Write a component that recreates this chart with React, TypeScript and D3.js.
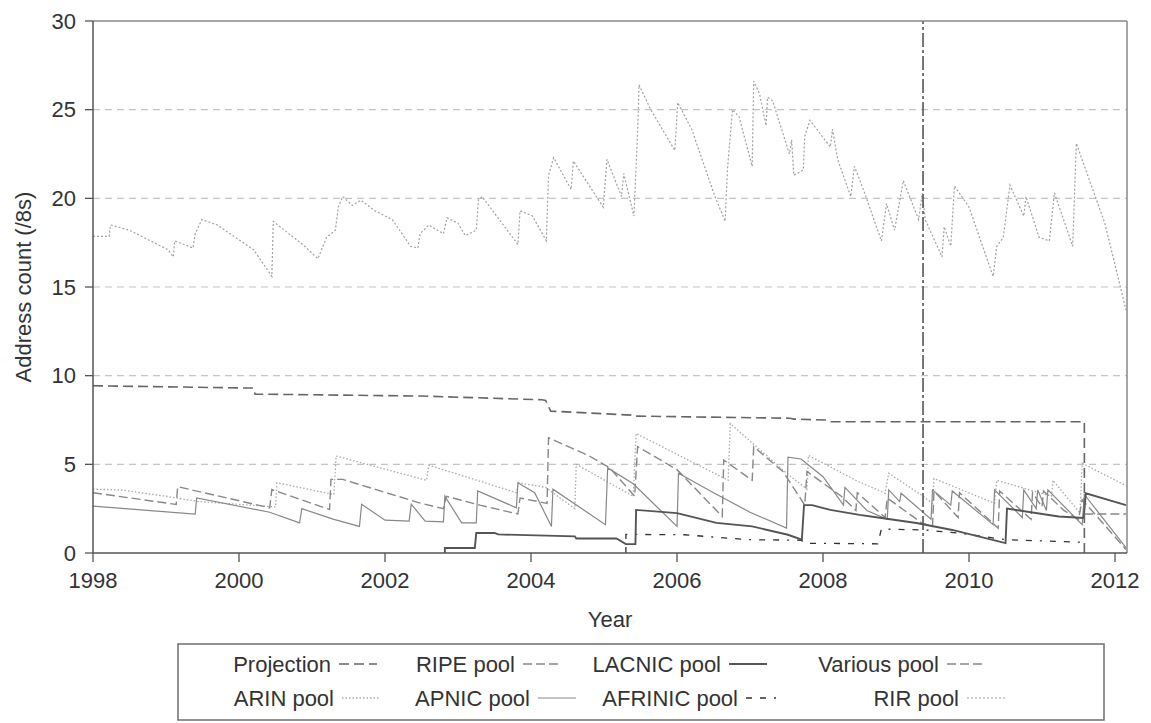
import React from 'react';
import * as d3 from 'd3';

type Pt = [number, number];

// year, /8 count
const rirPool: Pt[] = [
  [1998.0, 17.85], [1998.22, 17.85], [1998.24, 18.5], [1998.5, 18.2], [1999.03, 17.1], [1999.1, 16.7],
  [1999.12, 17.6], [1999.37, 17.2], [1999.4, 18.0], [1999.49, 18.8], [1999.7, 18.5], [2000.2, 17.1],
  [2000.45, 15.6], [2000.47, 18.7], [2000.9, 17.3], [2001.08, 16.6], [2001.2, 17.8], [2001.32, 18.2],
  [2001.36, 19.5], [2001.42, 20.1], [2001.55, 19.6], [2001.67, 19.9], [2001.86, 19.3], [2002.1, 18.8],
  [2002.35, 17.3], [2002.45, 17.2], [2002.48, 18.0], [2002.6, 18.5], [2002.8, 18.0], [2002.85, 18.9],
  [2003.0, 18.6], [2003.1, 17.9], [2003.25, 18.2], [2003.28, 19.9], [2003.33, 20.1], [2003.82, 17.4],
  [2003.85, 19.3], [2004.02, 19.0], [2004.21, 17.6], [2004.24, 21.3], [2004.31, 22.3], [2004.55, 20.5],
  [2004.58, 22.1], [2004.99, 19.5], [2005.04, 22.2], [2005.24, 20.1], [2005.27, 21.4], [2005.41, 19.0],
  [2005.46, 23.7], [2005.48, 26.4], [2005.64, 25.0], [2005.97, 22.7], [2006.01, 25.4], [2006.2, 23.9],
  [2006.52, 20.1], [2006.66, 18.7], [2006.69, 21.6], [2006.76, 25.0], [2006.85, 24.6], [2007.03, 21.8],
  [2007.05, 26.6], [2007.13, 25.9], [2007.22, 24.1], [2007.24, 25.7], [2007.31, 25.5], [2007.54, 22.5],
  [2007.57, 23.3], [2007.6, 21.3], [2007.73, 21.6], [2007.75, 23.5], [2007.82, 24.4], [2008.1, 22.9],
  [2008.13, 23.9], [2008.2, 22.2], [2008.38, 20.1], [2008.43, 21.8], [2008.57, 20.3], [2008.8, 17.6],
  [2008.87, 19.7], [2008.98, 18.2], [2009.1, 21.0], [2009.31, 18.8], [2009.36, 20.3], [2009.4, 18.8],
  [2009.63, 16.7], [2009.66, 18.4], [2009.75, 17.3], [2009.8, 20.7], [2010.0, 19.5], [2010.33, 15.6],
  [2010.38, 17.3], [2010.47, 17.8], [2010.56, 20.75], [2010.75, 19.0], [2010.78, 20.1], [2010.96, 17.8],
  [2011.1, 17.6], [2011.17, 20.3], [2011.42, 17.3], [2011.47, 23.1], [2011.86, 18.6], [2012.15, 13.7],
];

const projection: Pt[] = [
  [1998.0, 9.43], [2000.2, 9.3], [2000.22, 8.96], [2002.5, 8.85], [2004.15, 8.64], [2004.2, 8.6],
  [2004.27, 8.0], [2005.39, 7.77], [2005.42, 7.72], [2007.55, 7.6], [2007.6, 7.55], [2008.05, 7.5],
  [2008.1, 7.4], [2011.58, 7.4], [2011.58, 0],
];

const markerYear = 2009.37;

const arinPool: Pt[] = [
  [1998.0, 3.6], [1998.4, 3.55], [1999.0, 3.2], [1999.45, 2.9], [2000.5, 2.6], [2000.52, 3.96],
  [2001.3, 3.3], [2001.33, 5.47], [2002.57, 4.1], [2002.6, 4.95], [2003.8, 3.4], [2003.83, 3.96],
  [2004.2, 3.7], [2004.6, 2.5], [2004.62, 5.0], [2005.4, 3.2], [2005.44, 6.74], [2006.7, 4.1],
  [2006.73, 7.3], [2007.5, 4.5], [2007.78, 3.6], [2007.8, 5.5], [2008.45, 4.1], [2008.85, 3.37],
  [2008.9, 4.5], [2009.37, 3.2], [2009.5, 2.8], [2009.52, 4.2], [2010.35, 2.8], [2010.38, 4.1],
  [2011.13, 3.2], [2011.15, 4.1], [2011.52, 2.25], [2011.55, 5.06], [2012.15, 3.8],
];

const ripePool: Pt[] = [
  [1998.0, 3.4], [1999.14, 2.74], [1999.16, 3.74], [2000.42, 2.55], [2000.45, 3.58], [2001.24, 2.45],
  [2001.26, 4.15], [2001.42, 4.15], [2002.47, 2.83], [2002.8, 2.5], [2002.84, 3.2], [2003.3, 2.7],
  [2003.82, 2.2], [2003.85, 3.1], [2004.22, 2.8], [2004.24, 6.5], [2004.8, 5.47], [2005.08, 4.8],
  [2005.42, 3.2], [2005.46, 6.0], [2006.0, 4.7], [2006.62, 2.06], [2006.64, 5.24], [2007.03, 4.1],
  [2007.05, 6.0], [2007.45, 4.6], [2007.75, 2.7], [2007.78, 4.6], [2008.25, 3.2], [2008.45, 2.4],
  [2008.47, 3.4], [2008.85, 2.0], [2008.88, 3.1], [2009.35, 1.7], [2009.5, 1.5], [2009.52, 3.5],
  [2009.85, 2.0], [2009.87, 3.4], [2010.4, 1.4], [2010.42, 3.5], [2010.85, 1.9], [2010.87, 3.4],
  [2011.0, 2.6], [2011.02, 3.5], [2011.3, 2.4], [2011.5, 1.9], [2011.55, 3.0], [2012.15, 0.2],
];

const apnicPool: Pt[] = [
  [1998.0, 2.64], [1999.4, 2.2], [1999.42, 3.1], [2000.42, 2.3], [2000.83, 1.7], [2000.86, 2.5],
  [2001.3, 1.9], [2001.65, 1.5], [2001.68, 2.75], [2002.0, 1.85], [2002.33, 1.8], [2002.36, 2.75],
  [2002.55, 1.8], [2002.8, 1.75], [2002.82, 3.2], [2003.05, 1.7], [2003.25, 1.7], [2003.27, 3.5],
  [2003.8, 2.55], [2003.82, 3.96], [2004.05, 3.4], [2004.28, 1.5], [2004.3, 3.6], [2005.02, 1.6],
  [2005.05, 4.8], [2005.4, 3.9], [2006.0, 1.5], [2006.02, 4.5], [2006.5, 3.4], [2007.0, 2.3],
  [2007.5, 1.4], [2007.52, 5.4], [2007.7, 5.3], [2008.0, 4.3], [2008.28, 2.7], [2008.3, 3.7],
  [2008.6, 2.4], [2008.88, 1.9], [2008.9, 3.56], [2009.05, 2.9], [2009.07, 3.37], [2009.48, 1.9],
  [2009.5, 3.56], [2009.75, 2.7], [2009.77, 3.5], [2010.33, 1.6], [2010.35, 3.56], [2010.73, 2.0],
  [2010.75, 3.56], [2010.92, 2.5], [2010.94, 3.56], [2011.06, 2.4], [2011.08, 3.56], [2011.55, 1.6],
  [2011.58, 3.3], [2012.15, 0.3],
];

const lacnicPool: Pt[] = [
  [2002.82, 0], [2002.82, 0.28], [2003.23, 0.28], [2003.25, 1.13], [2003.5, 1.13], [2003.55, 1.05],
  [2004.6, 0.94], [2004.62, 0.82], [2005.17, 0.82], [2005.3, 0.5], [2005.43, 0.5], [2005.44, 2.43],
  [2006.0, 2.25], [2006.54, 1.7], [2007.03, 1.5], [2007.52, 1.03], [2007.71, 0.75], [2007.74, 2.7],
  [2007.85, 2.7], [2008.1, 2.43], [2008.5, 2.15], [2008.8, 1.97], [2009.28, 1.69], [2009.77, 1.3],
  [2010.5, 0.56], [2010.52, 2.5], [2011.23, 2.06], [2011.57, 1.97], [2011.6, 3.37], [2012.15, 2.7],
];

const afrinicPool: Pt[] = [
  [2005.3, 0], [2005.3, 1.05], [2006.1, 1.03], [2006.5, 0.9], [2007.0, 0.75], [2007.7, 0.72],
  [2007.75, 0.55], [2008.75, 0.52], [2008.8, 1.35], [2009.4, 1.3], [2009.9, 1.1], [2010.5, 0.75],
  [2011.58, 0.6],
];

const variousPool: Pt[] = [[2011.58, 2.2], [2012.15, 2.2]];

const xTicks = [1998, 2000, 2002, 2004, 2006, 2008, 2010, 2012];
const yTicks = [0, 5, 10, 15, 20, 25, 30];
const gridValues = [5, 10, 15, 20, 25];

const FONT = '"Liberation Sans", Arial, Helvetica, sans-serif';

const x = d3.scaleLinear().domain([1998, 2012.164]).range([93, 1127]);
const y = d3.scaleLinear().domain([0, 30]).range([553, 21]);
const line = d3.line<Pt>().x((d) => x(d[0])).y((d) => y(d[1]));

const styles: Record<string, { stroke: string; width: number; dash?: string }> = {
  'Projection': { stroke: '#666', width: 1.6, dash: '10,5' },
  'RIPE pool': { stroke: '#888', width: 1.4, dash: '9,4' },
  'LACNIC pool': { stroke: '#555', width: 1.9 },
  'Various pool': { stroke: '#888', width: 1.4, dash: '9,4' },
  'ARIN pool': { stroke: '#aaa', width: 1.3, dash: '1.5,2' },
  'APNIC pool': { stroke: '#888', width: 1.2 },
  'AFRINIC pool': { stroke: '#333', width: 1.3, dash: '6,8,6,8,2,8' },
  'RIR pool': { stroke: '#a0a0a0', width: 1.2, dash: '2,2' },
};

const series: { name: string; data: Pt[] }[] = [
  { name: 'RIR pool', data: rirPool },
  { name: 'ARIN pool', data: arinPool },
  { name: 'RIPE pool', data: ripePool },
  { name: 'APNIC pool', data: apnicPool },
  { name: 'AFRINIC pool', data: afrinicPool },
  { name: 'LACNIC pool', data: lacnicPool },
  { name: 'Various pool', data: variousPool },
  { name: 'Projection', data: projection },
];

// legend rows, text right end and sample span
const legendRows = [
  ['Projection', 'RIPE pool', 'LACNIC pool', 'Various pool'],
  ['ARIN pool', 'APNIC pool', 'AFRINIC pool', 'RIR pool'],
];
const legendTextEnd = [
  [331, 515, 721, 939],
  [334, 530, 738, 959],
];

export default function App() {
  const [x0, x1] = x.range();
  const [y0, y1] = y.range();
  return (
    <svg
      width={1151}
      height={723}
      style={{ position: 'absolute', left: 0, top: 0, background: '#fff' }}
      fontFamily={FONT}
    >
      <rect x={0} y={0} width={1151} height={723} fill="#fff" />
      {gridValues.map((v) => (
        <line key={v} x1={x0} x2={x1} y1={y(v)} y2={y(v)} stroke="#c4c4c4" strokeWidth={1.2} strokeDasharray="7,5" />
      ))}
      {series.map((s) => {
        const st = styles[s.name];
        return (
          <path
            key={s.name}
            d={line(s.data) ?? ''}
            fill="none"
            stroke={st.stroke}
            strokeWidth={st.width}
            strokeDasharray={st.dash}
          />
        );
      })}
      <line x1={x(markerYear)} x2={x(markerYear)} y1={y0} y2={y1} stroke="#555" strokeWidth={1.6} strokeDasharray="14,3,3,3" />
      {/* frame */}
      <line x1={x0} x2={x1} y1={y1} y2={y1} stroke="#888" strokeWidth={1.5} />
      <line x1={x1} x2={x1} y1={y1} y2={y0} stroke="#888" strokeWidth={1.5} />
      <line x1={x0} x2={x0} y1={y1} y2={y0} stroke="#555" strokeWidth={1.5} />
      <line x1={x0} x2={x1} y1={y0} y2={y0} stroke="#555" strokeWidth={1.5} />
      {xTicks.map((t) => (
        <g key={t} transform={`translate(${x(t)},0)`}>
          <line y1={y0} y2={y0 + 9} stroke="#555" strokeWidth={1.3} />
          <text y={y0 + 35} textAnchor="middle" fontSize={22} fill="#333">
            {t}
          </text>
        </g>
      ))}
      {yTicks.map((t) => (
        <g key={t} transform={`translate(0,${y(t)})`}>
          <line x1={x0 - 8} x2={x0} stroke="#555" strokeWidth={1.3} />
          <text x={x0 - 17} dy="0.35em" textAnchor="end" fontSize={22} fill="#333">
            {t}
          </text>
        </g>
      ))}
      <text x={(x0 + x1) / 2} y={627} textAnchor="middle" fontSize={22} fill="#333">
        Year
      </text>
      <text transform={`translate(31,${(y0 + y1) / 2}) rotate(-90)`} textAnchor="middle" fontSize={22} fill="#333">
        Address count (/8s)
      </text>
      {/* legend */}
      <rect x={178} y={644} width={926} height={76} fill="#fff" stroke="#777" strokeWidth={1.6} />
      {legendRows.map((row, r) =>
        row.map((name, c) => {
          const st = styles[name];
          const ty = 672 + r * 34;
          const te = legendTextEnd[r][c];
          return (
            <g key={name}>
              <text x={te} y={ty} textAnchor="end" fontSize={22} fill="#333">
                {name}
              </text>
              <line
                x1={te + 8}
                x2={te + 46}
                y1={ty - 8}
                y2={ty - 8}
                stroke={st.stroke}
                strokeWidth={st.width}
                strokeDasharray={st.dash}
              />
            </g>
          );
        })
      )}
    </svg>
  );
}
